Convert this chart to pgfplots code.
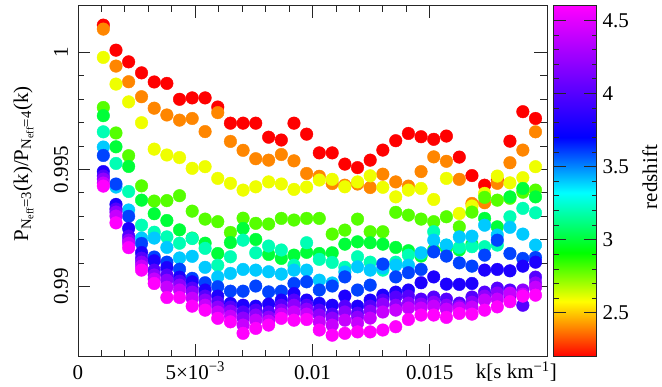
\documentclass[border=0pt]{standalone}
\usepackage{fontspec}
\setmainfont{Liberation Serif}
\usepackage{pgfplots}
\usepackage{pgfplotstable}
\pgfplotsset{compat=1.18}

\pgfplotstableread{
k a22 a24 a26 a28 a30 a32 a34 a36 a38 a40 a42 a44 a46
0.00108 1.00117 1.00100 0.99979 0.99765 0.99730 0.99661 0.99596 0.99560 0.99491 0.99472 0.99459 0.99442 0.99429
0.00162 1.00010 0.99942 0.99865 0.99656 0.99597 0.99526 0.99425 0.99438 0.99351 0.99331 0.99318 0.99301 0.99272
0.00216 0.99960 0.99875 0.99789 0.99559 0.99513 0.99406 0.99327 0.99300 0.99248 0.99215 0.99198 0.99185 0.99166
0.00271 0.99913 0.99811 0.99700 0.99430 0.99369 0.99262 0.99207 0.99184 0.99145 0.99121 0.99104 0.99087 0.99070
0.00325 0.99874 0.99762 0.99587 0.99365 0.99311 0.99232 0.99207 0.99126 0.99110 0.99070 0.99049 0.99032 0.99013
0.00379 0.99868 0.99733 0.99562 0.99367 0.99282 0.99212 0.99167 0.99104 0.99081 0.99049 0.99027 0.98997 0.98953
0.00433 0.99800 0.99711 0.99551 0.99388 0.99242 0.99185 0.99122 0.99074 0.99040 0.99023 0.99006 0.98985 0.98953
0.00487 0.99806 0.99718 0.99505 0.99322 0.99207 0.99205 0.99129 0.99035 0.99020 0.98993 0.98976 0.98950 0.98916
0.00542 0.99806 0.99662 0.99512 0.99288 0.99185 0.99163 0.99082 0.99016 0.98985 0.98959 0.98942 0.98920 0.98899
0.00596 0.99767 0.99743 0.99462 0.99277 0.99141 0.99091 0.99041 0.98999 0.98959 0.98933 0.98912 0.98891 0.98864
0.00650 0.99698 0.99620 0.99441 0.99231 0.99188 0.99127 0.99056 0.98980 0.98928 0.98912 0.98895 0.98873 0.98849
0.00704 0.99698 0.99582 0.99412 0.99292 0.99248 0.99198 0.99073 0.98980 0.98920 0.98891 0.98865 0.98835 0.98800
0.00758 0.99698 0.99546 0.99426 0.99270 0.99201 0.99144 0.99070 0.99002 0.98916 0.98899 0.98878 0.98856 0.98821
0.00813 0.99638 0.99540 0.99447 0.99267 0.99137 0.99173 0.99063 0.98977 0.98925 0.98891 0.98869 0.98852 0.98835
0.00867 0.99626 0.99564 0.99438 0.99291 0.99120 0.99156 0.99053 0.98980 0.98942 0.98920 0.98899 0.98882 0.98864
0.00921 0.99698 0.99537 0.99415 0.99284 0.99134 0.99091 0.99070 0.99013 0.98970 0.98942 0.98920 0.98891 0.98856
0.00975 0.99651 0.99483 0.99425 0.99291 0.99146 0.99187 0.99070 0.99020 0.98942 0.98920 0.98903 0.98882 0.98859
0.01029 0.99571 0.99471 0.99455 0.99291 0.99141 0.99116 0.99027 0.98985 0.98928 0.98899 0.98878 0.98848 0.98814
0.01084 0.99571 0.99440 0.99458 0.99224 0.99144 0.99103 0.99015 0.99002 0.98920 0.98882 0.98865 0.98835 0.98792
0.01138 0.99523 0.99433 0.99426 0.99241 0.99181 0.99082 0.99062 0.99041 0.98959 0.98916 0.98891 0.98856 0.98800
0.01192 0.99508 0.99438 0.99447 0.99288 0.99191 0.99127 0.99084 0.98985 0.98916 0.98886 0.98869 0.98843 0.98806
0.01246 0.99540 0.99423 0.99473 0.99234 0.99187 0.99104 0.99070 0.99006 0.98942 0.98916 0.98895 0.98865 0.98806
0.01300 0.99583 0.99480 0.99424 0.99234 0.99181 0.99070 0.99079 0.99096 0.98963 0.98942 0.98925 0.98891 0.98814
0.01355 0.99623 0.99447 0.99383 0.99317 0.99167 0.99104 0.99091 0.99041 0.98976 0.98955 0.98920 0.98899 0.98828
0.01409 0.99654 0.99429 0.99412 0.99305 0.99153 0.99134 0.99091 0.99059 0.98985 0.98959 0.98929 0.98908 0.98859
0.01463 0.99640 0.99491 0.99419 0.99288 0.99130 0.99141 0.99144 0.99073 0.99016 0.98946 0.98925 0.98908 0.98878
0.01517 0.99629 0.99554 0.99372 0.99277 0.99156 0.99234 0.99198 0.99148 0.99041 0.98955 0.98933 0.98916 0.98878
0.01571 0.99643 0.99535 0.99462 0.99298 0.99164 0.99177 0.99177 0.99130 0.99010 0.98946 0.98920 0.98903 0.98868
0.01626 0.99553 0.99458 0.99312 0.99255 0.99156 0.99167 0.99212 0.99101 0.99009 0.98929 0.98916 0.98908 0.98885
0.01680 0.99474 0.99355 0.99344 0.99318 0.99181 0.99170 0.99215 0.99087 0.99013 0.98955 0.98933 0.98912 0.98882
0.01734 0.99433 0.99358 0.99398 0.99381 0.99291 0.99170 0.99262 0.99134 0.99070 0.98976 0.98959 0.98942 0.98899
0.01788 0.99455 0.99441 0.99472 0.99369 0.99255 0.99177 0.99220 0.99198 0.99073 0.98993 0.98972 0.98946 0.98913
0.01842 0.99621 0.99529 0.99443 0.99377 0.99383 0.99298 0.99253 0.99141 0.99067 0.98985 0.98959 0.98972 0.98935
0.01897 0.99747 0.99583 0.99465 0.99403 0.99419 0.99334 0.99224 0.99120 0.99087 0.98920 0.98985 0.98967 0.98959
0.01951 0.99718 0.99661 0.99512 0.99412 0.99383 0.99315 0.99177 0.99124 0.99104 0.99040 0.99015 0.98997 0.98963
}\ratio

\newcommand{\fnt}{\fontsize{21}{25}\selectfont}

\begin{document}
\begin{tikzpicture}
\begin{axis}[
  at={(0,0)}, anchor=south west,
  scale only axis, width=469pt, height=351pt,
  xmin=0, xmax=0.02, ymin=0.987, ymax=1.002,
  enlargelimits=false,
  scaled x ticks=false, scaled y ticks=false,
  xtick={0,0.005,0.01,0.015},
  xticklabels={0,5×10\textsuperscript{−3},0.01,0.015},
  ytick={0.99,0.995,1}, yticklabels={0.99,0.995,1},
  minor x tick num=4, minor y tick num=4,
  tick align=inside, tick pos=both,
  major tick length=12.5pt, minor tick length=6.5pt,
  axis line style={black!85, line width=0.8pt},
  every tick/.style={black!85, line width=0.8pt},
  every x tick label/.style={font=\fnt, anchor=base, yshift=-22.3pt, inner sep=0pt},
  every y tick label/.style={font=\fnt, xshift=-10pt, anchor=base, rotate=90, inner sep=0pt},
  xlabel={k[s km\textsuperscript{−1}]},
  every axis x label/.style={at={(axis description cs:1.0213,-0.0635)}, anchor=base east, font=\fnt, inner sep=0pt},
  ylabel={P\textsubscript{N\textsubscript{eff}=3}(k)/P\textsubscript{N\textsubscript{eff}=4}(k)},
  every axis y label/.style={at={(axis description cs:-0.1066,0.549)}, rotate=90, anchor=base, font=\fnt, inner sep=0pt},
  colormap={rootrainbow}{rgb255(0pt)=(255,0,0); rgb255(158pt)=(255,255,0); rgb255(296pt)=(0,255,0); rgb255(467pt)=(0,255,255); rgb255(625pt)=(0,0,255); rgb255(1000pt)=(255,0,255)},
  point meta min=2.2, point meta max=4.6,
  colorbar,
  colorbar/width=43pt,
  colorbar style={
    at={(parent axis.north east)}, anchor=north west, xshift=-2pt,
    ytick={2.5,3,3.5,4,4.5}, yticklabels={2.5,3,3.5,4,4.5},
    minor y tick num=4,
    tick align=inside, ytick pos=both, yticklabel pos=right,
    major tick length=12.5pt, minor tick length=5pt,
    axis line style={black!85, line width=0.8pt},
    every tick/.style={black!85, line width=0.8pt},
    every y tick label/.style={font=\fnt, anchor=west, xshift=6pt, inner sep=0pt},
    ylabel={redshift},
    every axis y label/.style={at={(axis description cs:2.41,0.512)}, rotate=90, anchor=base, font=\fnt, inner sep=0pt},
  },
  scatter/use mapped color={draw=mapped color, fill=mapped color},
  every axis plot/.append style={scatter, only marks, mark=*, mark size=6.3pt},
]
\addplot[point meta=2.2] table[x=k,y=a22]{\ratio};
\addplot[point meta=2.4] table[x=k,y=a24]{\ratio};
\addplot[point meta=2.6] table[x=k,y=a26]{\ratio};
\addplot[point meta=2.8] table[x=k,y=a28]{\ratio};
\addplot[point meta=3.0] table[x=k,y=a30]{\ratio};
\addplot[point meta=3.2] table[x=k,y=a32]{\ratio};
\addplot[point meta=3.4] table[x=k,y=a34]{\ratio};
\addplot[point meta=3.6] table[x=k,y=a36]{\ratio};
\addplot[point meta=3.8] table[x=k,y=a38]{\ratio};
\addplot[point meta=4.0] table[x=k,y=a40]{\ratio};
\addplot[point meta=4.2] table[x=k,y=a42]{\ratio};
\addplot[point meta=4.4] table[x=k,y=a44]{\ratio};
\addplot[point meta=4.6] table[x=k,y=a46]{\ratio};
\end{axis}
\pgfresetboundingbox
\useasboundingbox (-78pt,-29.3pt) rectangle (584pt,356.7pt);
\end{tikzpicture}
\end{document}
